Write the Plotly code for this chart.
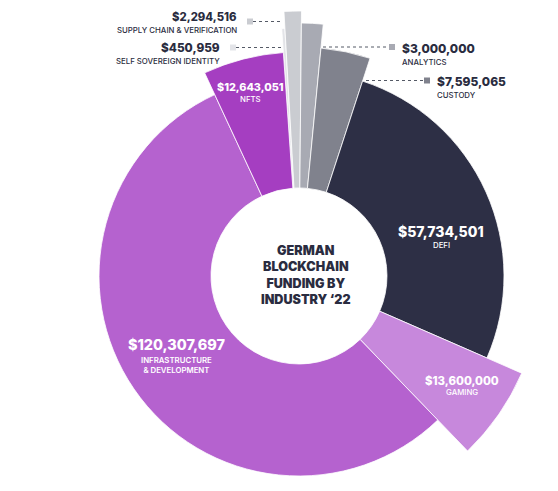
import plotly.graph_objects as go

# ---- data ----
categories = ["SELF SOVEREIGN IDENTITY", "SUPPLY CHAIN & VERIFICATION", "ANALYTICS", "CUSTODY",
              "DEFI", "GAMING", "INFRASTRUCTURE<br>& DEVELOPMENT", "NFTS"]
values = [450959, 2294516, 3000000, 7595065, 57734501, 13600000, 120307697, 12643051]
# ---- style ----
colors = ["#E3E4E8", "#CACCD1", "#A8AAB3", "#80828D", "#2D2F45", "#C788DC", "#B562CF", "#A53EC1"]
outer_radius = [248, 265, 253, 229, 205, 243, 200, 224]
inner_radius = 88
title_lines = ["GERMAN", "BLOCKCHAIN", "FUNDING BY", "INDUSTRY \u201822"]

W, H = 558, 491
CX, CY, RPX = 299, 276, 200

total = sum(values)
widths = [v / total * 360 for v in values]
thetas = []
acc = 0
for w in widths:
    thetas.append(acc + w / 2)
    acc += w

fig = go.Figure()
fig.add_trace(go.Barpolar(
    r=[o - inner_radius for o in outer_radius],
    base=[inner_radius] * len(values),
    theta=thetas,
    width=widths,
    marker=dict(color=colors, line=dict(color="white", width=0.8)),
    hoverinfo="skip",
))
fig.add_trace(go.Scatterpolar(r=[0], theta=[0], mode="markers", marker=dict(opacity=0),
                              cliponaxis=False, hoverinfo="skip"))

def px(x):
    return x / W

def py(y):
    return 1 - y / H

FONT = "Inter, sans-serif"
DARK = "#2A2C40"
ann = []

def label(x, y, val, name, color, anchor, vsize, nsize=7.8, gap=13):
    ann.append(dict(x=px(x), y=py(y), xref="paper", yref="paper", showarrow=False,
                    text="$" + format(val, ","), xanchor=anchor, yanchor="middle",
                    font=dict(family=FONT, size=vsize, color=color, weight=800)))
    ann.append(dict(x=px(x), y=py(y + gap), xref="paper", yref="paper", showarrow=False,
                    text=name, xanchor=anchor, yanchor="middle",
                    font=dict(family=FONT, size=nsize, color=color, weight=500),
                    align="center"))

label(239, 17.5, values[1], categories[1], DARK, "right", 11.3, gap=12)
label(222, 48, values[0], categories[0], DARK, "right", 11.8)
label(400, 48, values[2], categories[2], DARK, "left", 12, gap=14)
label(435, 81.5, values[3], categories[3], DARK, "left", 12, gap=13)
label(250, 87, values[7], categories[7], "white", "center", 10.8, gap=12.5)
label(441, 232, values[4], categories[4], "white", "center", 14, gap=12.5)
label(462, 380.5, values[5], categories[5], "white", "center", 11.4, gap=11.5)
ann.append(dict(x=px(176), y=py(344.5), xref="paper", yref="paper", showarrow=False,
                text="$" + format(values[6], ","), xanchor="center", yanchor="middle",
                font=dict(family=FONT, size=14.4, color="white", weight=800)))
ann.append(dict(x=px(176), y=py(364.7), xref="paper", yref="paper", showarrow=False,
                text=categories[6], xanchor="center", yanchor="middle", align="center",
                font=dict(family=FONT, size=7.8, color="white", weight=600)))
ann.append(dict(x=px(305.5), y=py(275), xref="paper", yref="paper", showarrow=False,
                text="<br>".join(title_lines), xanchor="center", yanchor="middle", align="center",
                font=dict(family=FONT, size=12.6, color=DARK, weight=900)))

shapes = []
def leader(x0, x1, y, sq_x, sq_color):
    shapes.append(dict(type="line", xref="paper", yref="paper", x0=px(x0), x1=px(x1),
                       y0=py(y), y1=py(y), line=dict(color="#555A66", width=1, dash="dot")))
    shapes.append(dict(type="rect", xref="paper", yref="paper", x0=px(sq_x), x1=px(sq_x + 6),
                       y0=py(y - 3), y1=py(y + 3), line=dict(width=0), fillcolor=sq_color))

leader(253, 283, 21.5, 247, colors[1])
leader(236, 283, 47.5, 230, colors[0])
leader(323, 389, 47, 389, colors[2])
leader(366, 424, 80.5, 424, colors[3])

fig.update_layout(
    width=W, height=H,
    margin=dict(l=0, r=0, t=0, b=0),
    paper_bgcolor="white", plot_bgcolor="white",
    showlegend=False,
    polar=dict(
        domain=dict(x=[(CX - RPX) / W, (CX + RPX) / W], y=[1 - (CY + RPX) / H, 1 - (CY - RPX) / H]),
        bgcolor="rgba(0,0,0,0)",
        radialaxis=dict(range=[0, RPX], visible=False, showgrid=False),
        angularaxis=dict(direction="clockwise", rotation=94, visible=False, showgrid=False),
        bargap=0,
    ),
    annotations=ann,
    shapes=shapes,
)

post = """
document.body.style.margin = '0';
var gd = document.getElementById('{plot_id}');
gd.querySelectorAll('.polarlayer [clip-path]').forEach(function(e){ e.removeAttribute('clip-path'); });
"""

fig.write_html("out.html", post_script=post, config={"displayModeBar": False})
